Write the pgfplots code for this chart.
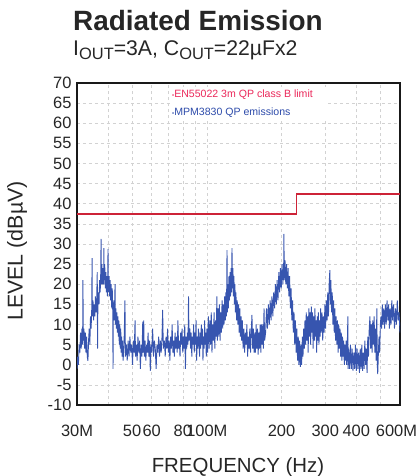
\documentclass[border=0pt]{standalone}
\usepackage{pgfplots}
\pgfplotsset{compat=1.18}
\usepackage{pgfplotstable}
\usepackage{fontspec}
\setmainfont{Liberation Sans}
\definecolor{limitred}{RGB}{205,35,55}
\definecolor{legred}{RGB}{235,40,90}
\definecolor{emblue}{RGB}{55,85,175}
\definecolor{legblue}{RGB}{45,75,170}
\definecolor{gridgray}{RGB}{210,210,210}

\pgfplotstableread{
f v
30 37.5
230 37.5
230 42.4
600 42.4
}\limitdata

\pgfplotstableread{
f v
30.0 -1
30.2 2
30.4 0
30.6 5
30.8 3
31.0 8
31.2 4
31.4 9
31.6 5
31.7 21
31.8 6
32.0 9
32.2 4
32.4 8
32.6 3
32.8 7
33.0 2
33.2 1
33.4 6
33.6 9
33.8 5
34.0 12
34.2 9
34.4 14
34.5 26.5
34.6 12
34.8 16
35.0 11
35.2 15
35.4 12
35.6 17
35.8 13
36.0 16
36.2 23
36.3 4
36.4 14
36.6 18
36.8 15
37.0 21
37.2 18
37.4 23
37.5 31.3
37.6 20
37.8 25
38.0 20
38.2 24
38.4 20
38.5 29
38.6 21
38.8 25
39.0 19
39.2 23
39.4 18
39.6 22
39.8 17
40.0 28.7
40.1 18
40.4 22
40.6 17
40.8 21
41.0 16
41.2 20
41.4 14
41.6 19
41.8 13
41.9 -1
42.0 13
42.2 16
42.4 11
42.7 20
42.8 10
43.0 14
43.2 9
43.4 13
43.6 8
43.8 12
44.0 7
44.2 11
44.4 5
44.6 10
44.8 4
45.0 9
45.2 3
45.4 7
45.6 2
45.8 6
46.0 1
46.4 5
46.8 16
47.0 2
47.4 5
47.8 1
48.2 6
48.6 2
49.0 7
49.4 3
49.8 5
50.2 0
50.6 6
51.0 3
51.4 11
51.6 2
52.0 5
52.4 1
52.8 7
53.2 3
53.6 6
54.0 -1
54.4 5
54.8 2
55.2 10.7
55.4 3
55.7 11
56.0 2
56.4 6
56.8 1
57.2 5
57.6 3
58.0 8
58.4 2
58.8 6
59.2 -1.5
59.6 5
60.0 3
60.5 9
61.0 2
61.5 6
62.0 4
62.5 -1
63.0 5
63.5 3
64.0 7
64.5 2
65.0 6
65.5 3
66.0 7
66.4 13.6
66.8 4
67.5 6
68.0 2
68.5 7
69.0 4
69.5 9
70.0 3
70.5 6
71.0 1
71.5 7
72.0 4
72.5 10
73.0 3
73.5 6
74.0 2
74.5 8
75.0 4
75.5 7
76.0 3
76.5 11
77.0 4
77.5 6
78.0 2
78.5 8
79.0 5
79.5 9
80.0 3
80.5 7
81.0 4
81.5 10
82.0 -1
82.5 7
83.0 4
83.5 8
84.0 5
84.4 17
84.8 6
85.5 9
86.0 4
86.5 8
87.0 2
87.5 7
88.0 5
88.5 10
89.0 3
89.5 8
90.0 5
90.5 11
91.0 1
91.5 7
92.0 4
92.5 9
93.0 6
93.5 2
94.0 8
94.5 4
95.0 10
95.5 5
96.0 9
96.5 1
97.0 7
97.5 4
98.0 11
98.5 5
99.0 8
99.5 2
100.0 9
100.7 3
101.4 12
102.1 4
102.8 11
103.5 5
104.2 13
104.9 3
105.6 10
106.3 6
107.0 13
107.7 4
108.4 11
109.1 7
109.8 17
110.3 6
111.0 14
111.7 7
112.4 15
113.1 6
113.8 13
114.5 8
115.2 16
115.9 9
116.6 15
117.3 10
118.0 17
118.7 11
119.4 18
120.0 12
120.6 28.5
121.0 13
121.6 20
122.2 14
122.8 22
123.4 16
124.0 23
124.6 17
125.2 24
125.8 18
126.3 29
126.8 19
127.4 24
128.0 17
128.6 22
129.2 15
129.8 20
130.4 13
131.0 18
131.8 11
132.6 16
133.4 10
134.2 15
135.0 8
135.8 14
136.6 7
137.4 12
138.2 6
139.0 11
140.0 4
141.0 9
142.0 3
143.0 8
144.0 5
145.0 10
146.0 2
147.0 7
148.0 4
149.0 9
150.0 3
151.0 8
152.0 12.4
153.0 4
154.0 9
155.0 3
156.0 8
157.0 3
158.0 10
159.0 4
160.0 9
161.0 2.5
162.0 8
163.0 4
164.0 10
165.0 3
166.0 10
167.0 5
168.0 10
169.0 4
170.0 14
171.0 6
172.5 8
174.0 14
175.5 9
177.0 15
178.5 10
180.0 16
181.5 11
183.0 17
184.5 12
186.0 18
187.5 14
189.0 20
190.5 15
192.0 21
193.5 16
195.0 23
196.5 18
198.0 24
199.5 19
201.0 25
202.5 20
204.0 25
204.5 32.5
205.0 21
206.5 26
208.0 20
209.5 25
211.0 19
212.5 24
214.0 17
215.5 22
217.0 14
218.5 19
220.0 11
221.5 16
223.0 8
224.5 13
226.0 5
227.5 11
229.0 3
230.5 9
232.0 1
233.5 7
235.0 0
236.5 6
238.0 -0.5
239.5 5
241.0 0
242.5 7
244.0 2
245.5 9
247.0 4
248.5 11
250.0 5
251.5 13
253.0 6
254.5 12
256.0 3
257.5 14
259.0 7
260.5 13
262.0 5
263.5 14.5
265.0 8
266.5 13
268.0 4
269.5 12
271.0 6
272.5 14
274.0 7
275.5 11
277.0 3
278.5 12
280.0 6
281.5 13
283.0 5
284.5 11
286.0 7
287.5 14
289.0 8
291.0 13
293.0 6
295.0 12
297.0 8
299.0 15
301.0 9
303.0 16
305.0 11
307.0 18
309.0 12
311.0 20
313.0 23.5
314.5 15
316.0 21
318.0 13
320.0 18
322.0 10
324.0 16
326.0 8
328.0 14
330.0 6
332.0 12
334.0 5
336.0 11
338.0 3
340.0 10
342.0 4
344.0 9
346.0 2
348.0 8
350.0 1
352.0 7
354.0 2
356.0 6
358.0 0
360.0 5
362.0 1
364.0 6
366.0 0
368.0 5
370.0 12
371.0 -1
373.0 4
376.0 -1
379.0 5
382.0 -1
385.0 4
388.0 -1.5
391.0 3
394.0 -1
397.0 5
400.0 -1.5
403.0 4
406.0 -1
409.0 3
412.0 -2
415.0 4
418.0 -1
421.0 5
424.0 -1.5
427.0 3
430.0 -1
433.0 6
436.0 0
439.0 4
442.0 -2
445.0 7
448.0 2
451.0 9
454.0 12
457.0 4
460.0 10
463.0 3
466.0 11
469.0 5
472.0 12
475.0 3
478.0 9
481.0 1
484.0 14
486.0 0
488.0 -2.3
491.0 3
494.0 7
497.0 3
500.0 10
503.0 12
506.0 9
509.0 15
512.0 10
516.0 14
520.0 9
524.0 15
528.0 10
532.0 16
536.0 11
540.0 15
544.0 9
548.0 14
552.0 10
556.0 16
560.0 11
565.0 15
570.0 9
575.0 14
580.0 10
585.0 16
590.0 11
595.0 13
600.0 8
}\emissiondata

\begin{document}
\begin{tikzpicture}
\useasboundingbox (0,0) rectangle (419bp,476bp);
\begin{axis}[
  at={(77bp,71bp)}, anchor=south west,
  scale only axis, width=323bp, height=322bp,
  xmode=log, xmin=30, xmax=600, ymin=-10, ymax=70,
  log basis x=10,
  xtick={30,50,60,80,100,200,300,400,600},
  xticklabels={30M,50,60,80,100M,200,300,400,\hspace*{-7bp}600M},
  minor xtick={40,70,90,500},
  ytick={-10,-5,...,70},
  grid=both,
  major grid style={gridgray, dashed, line width=0.5bp},
  minor grid style={gridgray, dashed, line width=0.5bp},
  major tick length=0pt, minor tick length=0pt,
  axis line style={line width=2.4bp, black!90},
  /pgf/number format/assume math mode=true,
  ticklabel style={font=\fontsize{16.5}{18}\selectfont, text=black!85},
  xticklabel style={yshift=-17bp},
  yticklabel style={xshift=-2bp},
]
\addplot[emblue, line width=0.9bp] table[x=f, y=v] {\emissiondata};
\addplot[limitred, line width=1.6bp] table[x=f, y=v] {\limitdata};
\end{axis}
\fill[white] (170bp,356bp) rectangle (327bp,389bp);
\node[anchor=base west, inner sep=0pt, text=legred] at (172bp,378bp)
  {\fontsize{10.6}{12}\selectfont{\fontsize{6}{6}\selectfont •}EN55022 3m QP class B limit};
\node[anchor=base west, inner sep=0pt, text=legblue] at (172bp,360bp)
  {\fontsize{10.6}{12}\selectfont{\fontsize{6}{6}\selectfont •}MPM3830 QP emissions};
\node[anchor=base west, inner sep=0pt, text=black!85] at (73bp,445bp)
  {\fontsize{28}{30}\selectfont\bfseries Radiated Emission};
\node[anchor=base west, inner sep=0pt, text=black!85] at (73bp,420bp)
  {\fontsize{21.3}{24}\selectfont I\raisebox{-3.5bp}{\fontsize{16.5}{17}\selectfont OUT}=3A, C\raisebox{-3.5bp}{\fontsize{16.5}{17}\selectfont OUT}=22µFx2};
\node[anchor=center, rotate=90, inner sep=0pt, text=black!85] at (17bp,225bp)
  {\fontsize{21.5}{22}\selectfont LEVEL (dBµV)};
\node[anchor=base, inner sep=0pt, text=black!85] at (238bp,4bp)
  {\fontsize{20.5}{22}\selectfont FREQUENCY (Hz)};
\end{tikzpicture}
\end{document}
